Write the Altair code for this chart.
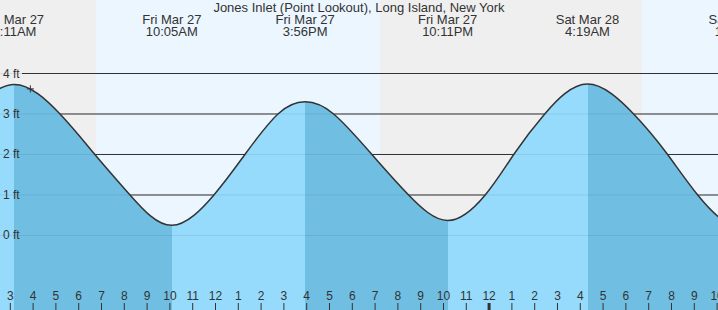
import altair as alt
import pandas as pd

TITLE = "Jones Inlet (Point Lookout), Long Island, New York"

# tide events, hours counted from Fri Mar 27 00:00
EVENT_DAY = ["Fri Mar 27", "Fri Mar 27", "Fri Mar 27", "Fri Mar 27", "Sat Mar 28", "Sat Mar 28"]
EVENT_TIME = ["3:11AM", "10:05AM", "3:56PM", "10:11PM", "4:19AM", "11:01AM"]
EVENT_HOUR = [3.183, 10.083, 15.933, 22.183, 28.317, 35.02]
EVENT_FT = [3.73, 0.25, 3.30, 0.37, 3.74, 0.20]

# times (hours) where the tide curve crosses the 1/2/3 ft lines
CROSS_HOUR = [-1.6, -0.1, 1.3, 5.18, 6.71, 8.25, 11.93, 13.29, 14.74, 17.18, 18.86, 20.47,
              23.83, 25.08, 26.44, 30.34, 31.83, 33.15, 36.8, 38.3]
CROSS_FT = [1, 2, 3, 3, 2, 1, 1, 2, 3, 3, 2, 1, 1, 2, 3, 3, 2, 1, 1, 2]

# daylight / night bands
SUN_START = [-2.0, 6.76, 19.21, 30.71]
SUN_END = [6.76, 19.21, 30.71, 40.0]
SUN_KIND = ["night", "day", "night", "day"]

Y_TICKS = [0, 1, 2, 3, 4]
Y_LABELS = ["0 ft", "1 ft", "2 ft", "3 ft", "4 ft"]

HOUR_TICKS = list(range(3, 35))
HOUR_LABELS = ["3", "4", "5", "6", "7", "8", "9", "10", "11", "12", "1", "2",
               "3", "4", "5", "6", "7", "8", "9", "10", "11", "12", "1", "2",
               "3", "4", "5", "6", "7", "8", "9", "10"]
MIDNIGHT = [24]

NOW_HOUR = [3.88]
NOW_FT = [3.62]

X_DOMAIN = [2.548, 34.04]
Y_DOMAIN = [-1.84, 5.815]

RISING = "#96DBFC"
FALLING = "#70BFE3"

# ---------- tables ----------
curve = pd.DataFrame({"h": CROSS_HOUR + EVENT_HOUR, "ft": CROSS_FT + EVENT_FT}).sort_values("h").reset_index(drop=True)

# horizontal gradient with hard stops at every high / low: rising = light, falling = dark
h0, h1 = curve["h"].min(), curve["h"].max()
stops = []
prev_ft = CROSS_FT[CROSS_HOUR.index(max(h for h in CROSS_HOUR if h < EVENT_HOUR[0]))]
colour = RISING if EVENT_FT[0] > prev_ft else FALLING
stops.append(alt.GradientStop(color=colour, offset=0.0))
for k, (eh, ef) in enumerate(zip(EVENT_HOUR, EVENT_FT)):
    off = (eh - h0) / (h1 - h0)
    stops.append(alt.GradientStop(color=colour, offset=off))
    colour = FALLING if colour == RISING else RISING
    stops.append(alt.GradientStop(color=colour, offset=off))
stops.append(alt.GradientStop(color=colour, offset=1.0))
fill = alt.LinearGradient(gradient="linear", stops=stops, x1=0, x2=1, y1=0, y2=0)

events = pd.DataFrame({"h": EVENT_HOUR, "day": EVENT_DAY, "time": EVENT_TIME})
sun = pd.DataFrame({"s": SUN_START, "e": SUN_END, "kind": SUN_KIND})
yt = pd.DataFrame({"ft": Y_TICKS, "label": Y_LABELS})
ht = pd.DataFrame({"h": HOUR_TICKS, "label": HOUR_LABELS})
mid = pd.DataFrame({"h": MIDNIGHT})
now = pd.DataFrame({"h": NOW_HOUR, "ft": NOW_FT})
title_df = pd.DataFrame({"t": [TITLE]})

xs = alt.Scale(domain=X_DOMAIN, nice=False, zero=False)
ys = alt.Scale(domain=Y_DOMAIN, nice=False, zero=False)
X = alt.X("h:Q", scale=xs, axis=None)
Y = alt.Y("ft:Q", scale=ys, axis=None)
FONT = "Liberation Sans"
TXT = "#333333"

bg = alt.Chart(sun).mark_rect(clip=True).encode(
    x=alt.X("s:Q", scale=xs, axis=None), x2="e:Q",
    y=alt.value(0), y2=alt.value(310),
    color=alt.Color("kind:N", scale=alt.Scale(domain=["night", "day"], range=["#EFEFEF", "#ECF6FF"]), legend=None),
)

grid_dark = alt.Chart(yt).mark_rule(color="#333333", strokeWidth=1).encode(
    y=Y, x=alt.value(22), x2=alt.value(718)
)

area = alt.Chart(curve).mark_area(interpolate="natural", clip=True, color=fill).encode(
    x=X, y=Y, y2=alt.datum(Y_DOMAIN[0])
)

grid_faint = alt.Chart(yt).mark_rule(color="#333333", strokeWidth=1, opacity=0.1).encode(
    y=Y, x=alt.value(0), x2=alt.value(718)
)

line = alt.Chart(curve).mark_line(interpolate="natural", color="#333333", strokeWidth=1.5, clip=True).encode(
    x=X, y=Y
)

ylab = alt.Chart(yt).mark_text(align="left", baseline="middle", font=FONT, fontSize=12, color=TXT).encode(
    y=Y, x=alt.value(3), text="label:N"
)

title = alt.Chart(title_df).mark_text(align="center", baseline="middle", font=FONT, fontSize=13, color=TXT).encode(
    x=alt.value(359), y=alt.value(8), text="t:N"
)

ev1 = alt.Chart(events).mark_text(align="center", baseline="middle", font=FONT, fontSize=13, color=TXT).encode(
    x=X, y=alt.value(20), text="day:N"
)
ev2 = alt.Chart(events).mark_text(align="center", baseline="middle", font=FONT, fontSize=13, color=TXT).encode(
    x=X, y=alt.value(32), text="time:N"
)

hlab = alt.Chart(ht).mark_text(align="center", baseline="middle", font=FONT, fontSize=12, color=TXT).encode(
    x=X, y=alt.value(296), text="label:N"
)
hticks = alt.Chart(ht).mark_rule(color="#333333", strokeWidth=1).encode(
    x=X, y=alt.value(303), y2=alt.value(310)
)
mticks = alt.Chart(mid).mark_rule(color="#333333", strokeWidth=3).encode(
    x=X, y=alt.value(303), y2=alt.value(310)
)

marker = alt.Chart(now).mark_point(shape="M-1,0H1M0,-1V1", size=50, filled=False,
                                   stroke="#333333", strokeWidth=1, opacity=1).encode(
    x=X, y=Y
)

chart = alt.layer(
    bg, grid_dark, area, grid_faint, line, ylab, title, ev1, ev2, hlab, hticks, mticks, marker
).properties(
    width=718, height=310, padding=0, autosize="none"
).configure_view(stroke=None)

chart.save("out.html", embed_options={"renderer": "svg", "actions": False})
